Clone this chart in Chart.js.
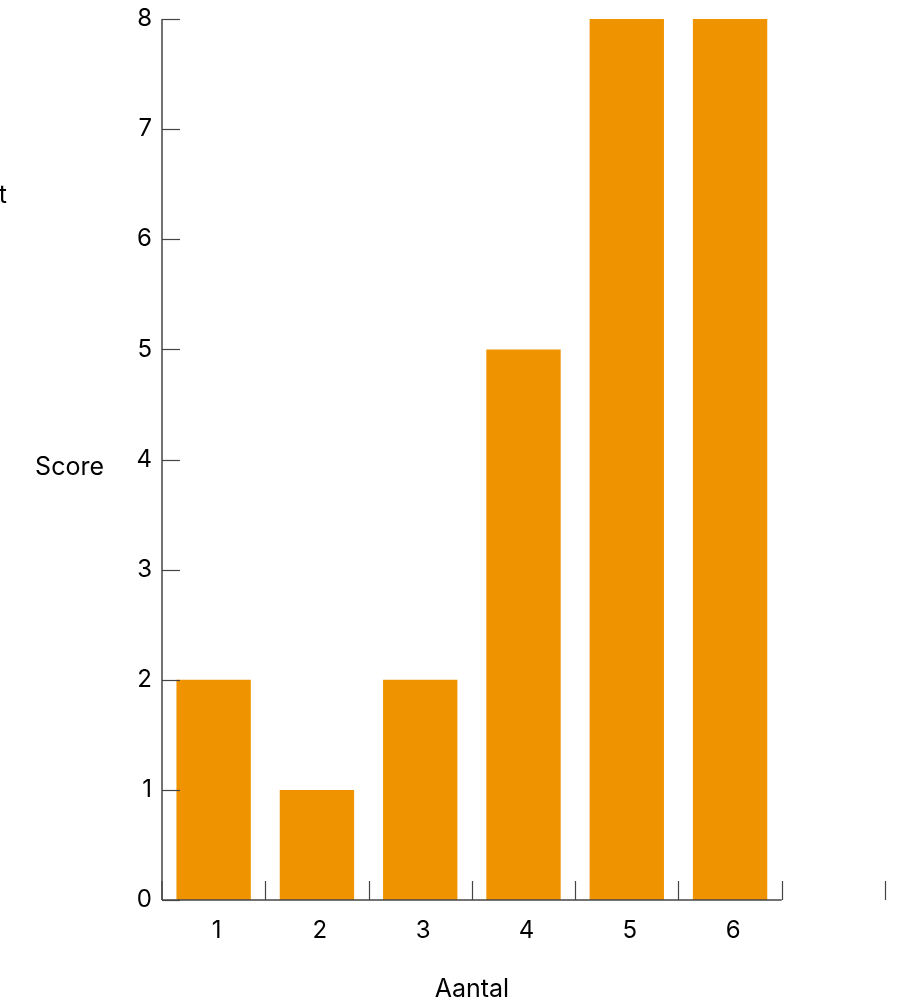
<!DOCTYPE html>
<html>
<head>
<meta charset="utf-8">
<script src="https://cdn.jsdelivr.net/npm/chart.js@4"></script>
<style>
  html, body { margin: 0; padding: 0; background: #fff; }
  #wrap { width: 899px; height: 999px; position: relative; }
</style>
</head>
<body>
<div id="wrap"><canvas id="chart"></canvas></div>
<script>
// chart data
const categories = ['1', '2', '3', '4', '5', '6', ''];
const scores = [2, 1, 2, 5, 8, 8, null];
const yTicks = [0, 1, 2, 3, 4, 5, 6, 7, 8];

const FONT = 'Inter, "DejaVu Sans", sans-serif';
const AXIS_COLOR = '#444';

// draws axis lines, inward ticks and the axis titles
const axesPlugin = {
    id: 'axes',
    afterDraw(chart) {
        const c = chart.ctx;
        const x = chart.scales.x;
        const y = chart.scales.y;
        const area = chart.chartArea;
        const n = categories.length;
        const step = (x.getPixelForValue(1) - x.getPixelForValue(0));
        const edge = i => x.getPixelForValue(i) - step / 2;

        c.save();
        c.strokeStyle = AXIS_COLOR;
        c.lineWidth = 1.5;

        // y axis line
        c.beginPath();
        c.moveTo(area.left, y.getPixelForValue(8));
        c.lineTo(area.left, y.getPixelForValue(0));
        c.stroke();

        // x axis line, only under the labelled categories
        const lastFilled = categories.filter(s => s !== '').length;
        c.beginPath();
        c.moveTo(area.left, area.bottom);
        c.lineTo(edge(lastFilled), area.bottom);
        c.stroke();

        c.lineWidth = 1.2;
        // y ticks pointing into the plot
        yTicks.forEach(v => {
            const py = Math.round(y.getPixelForValue(v)) + 0.5;
            c.beginPath();
            c.moveTo(area.left, py);
            c.lineTo(area.left + 18, py);
            c.stroke();
        });
        // x ticks at category boundaries, pointing up
        for (let i = 0; i <= n; i++) {
            const px = i === 0 ? area.left : Math.round(edge(i)) + 0.5;
            c.beginPath();
            c.moveTo(px, area.bottom);
            c.lineTo(px, area.bottom - 19);
            c.stroke();
        }

        // titles
        c.fillStyle = '#000';
        c.font = '25px ' + FONT;
        c.textBaseline = 'alphabetic';
        c.textAlign = 'right';
        c.fillText('Score', 104, (area.top + area.bottom) / 2 + 15);
        c.fillText('t', 7, 203);
        c.textAlign = 'center';
        c.fillText('Aantal', (area.left + edge(lastFilled)) / 2, 997);
        c.restore();
    }
};

new Chart(document.getElementById('chart'), {
    type: 'bar',
    data: {
        labels: categories,
        datasets: [{
            data: scores,
            backgroundColor: '#F09300',
            borderWidth: 0,
            barPercentage: 0.9,
            categoryPercentage: 0.8
        }]
    },
    options: {
        responsive: true,
        maintainAspectRatio: false,
        animation: false,
        layout: { padding: { left: 0, top: 19, right: 14, bottom: 0 } },
        plugins: {
            legend: { display: false },
            tooltip: { enabled: false }
        },
        scales: {
            x: {
                grid: { display: false, drawTicks: false },
                border: { display: false },
                ticks: {
                    color: '#000',
                    font: { family: FONT, size: 24 },
                    padding: 16,
                    labelOffset: 3,
                    maxRotation: 0
                },
                afterFit: s => {
                    s.height = 99;
                    s.paddingLeft = 0;
                    s.paddingRight = 0;
                }
            },
            y: {
                min: 0,
                max: 8,
                grid: { display: false, drawTicks: false },
                border: { display: false },
                ticks: {
                    stepSize: 1,
                    color: '#000',
                    font: { family: FONT, size: 24 },
                    padding: 10
                },
                afterFit: s => {
                    s.width = 162;
                    s.paddingTop = 0;
                    s.paddingBottom = 0;
                }
            }
        }
    },
    plugins: [axesPlugin]
});
</script>
</body>
</html>
